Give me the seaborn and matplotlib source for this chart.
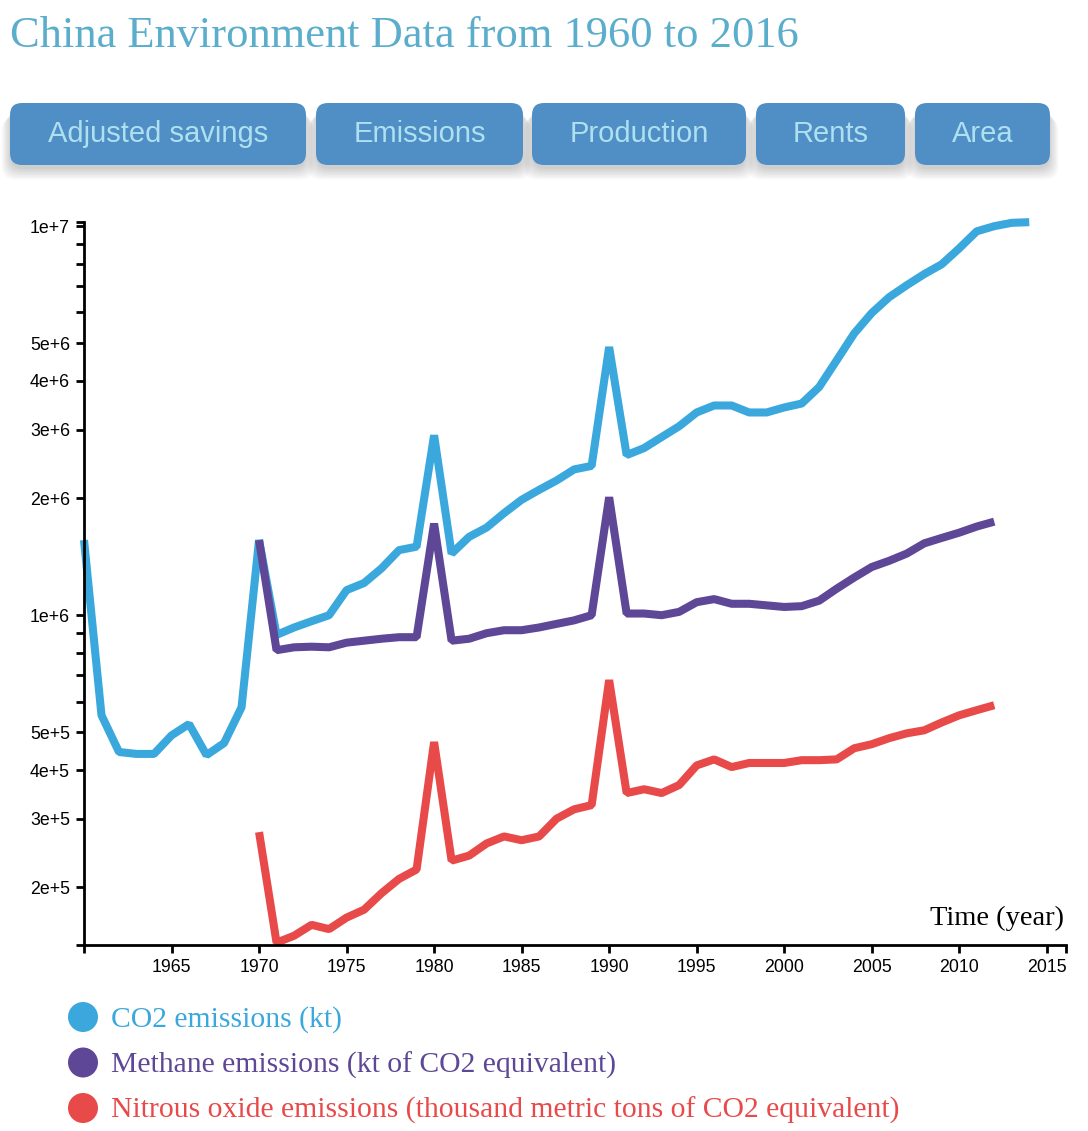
import numpy as np
import pandas as pd
import seaborn as sns
import matplotlib.pyplot as plt
from matplotlib.ticker import FixedLocator, NullFormatter
from matplotlib.patches import FancyBboxPatch, Circle

# data
co2_years = list(range(1960, 2015))
co2_values = [1.56e6, 5.53e5, 4.45e5, 4.4e5, 4.4e5, 4.91e5, 5.25e5, 4.37e5, 4.69e5, 5.8e5,
              1.56e6, 8.9e5, 9.3e5, 9.65e5, 1.0e6, 1.16e6, 1.21e6, 1.32e6, 1.47e6, 1.5e6,
              2.9e6, 1.44e6, 1.59e6, 1.68e6, 1.83e6, 1.98e6, 2.1e6, 2.22e6, 2.37e6, 2.42e6,
              4.89e6, 2.58e6, 2.69e6, 2.87e6, 3.06e6, 3.32e6, 3.46e6, 3.46e6, 3.32e6, 3.32e6,
              3.42e6, 3.5e6, 3.86e6, 4.52e6, 5.3e6, 5.98e6, 6.57e6, 7.05e6, 7.53e6, 7.98e6,
              8.77e6, 9.7e6, 1.0e7, 1.02e7, 1.024e7]

ch4_years = list(range(1970, 2013))
ch4_values = [1.56e6, 8.13e5, 8.27e5, 8.3e5, 8.27e5, 8.5e5, 8.6e5, 8.7e5, 8.78e5, 8.78e5,
              1.72e6, 8.6e5, 8.7e5, 8.99e5, 9.15e5, 9.15e5, 9.3e5, 9.5e5, 9.7e5, 1.0e6,
              2.01e6, 1.01e6, 1.01e6, 1.0e6, 1.02e6, 1.08e6, 1.1e6, 1.07e6, 1.07e6, 1.06e6,
              1.05e6, 1.055e6, 1.09e6, 1.17e6, 1.25e6, 1.33e6, 1.38e6, 1.44e6, 1.53e6, 1.58e6,
              1.63e6, 1.69e6, 1.74e6]

n2o_years = list(range(1970, 2013))
n2o_values = [2.77e5, 1.44e5, 1.5e5, 1.6e5, 1.56e5, 1.67e5, 1.75e5, 1.93e5, 2.1e5, 2.22e5,
              4.72e5, 2.34e5, 2.41e5, 2.59e5, 2.7e5, 2.64e5, 2.7e5, 3.0e5, 3.17e5, 3.25e5,
              6.81e5, 3.49e5, 3.57e5, 3.49e5, 3.66e5, 4.11e5, 4.26e5, 4.07e5, 4.17e5, 4.17e5,
              4.17e5, 4.24e5, 4.24e5, 4.26e5, 4.55e5, 4.66e5, 4.83e5, 4.97e5, 5.06e5, 5.3e5,
              5.53e5, 5.7e5, 5.87e5]

series_names = ["CO2 emissions (kt)",
                "Methane emissions (kt of CO2 equivalent)",
                "Nitrous oxide emissions (thousand metric tons of CO2 equivalent)"]
colors = ["#3ba8dd", "#5e4796", "#e84a4a"]
buttons = ["Adjusted savings", "Emissions", "Production", "Rents", "Area"]

y_major = [2e5, 3e5, 4e5, 5e5, 1e6, 2e6, 3e6, 4e6, 5e6, 1e7]
y_labels = ["2e+5", "3e+5", "4e+5", "5e+5", "1e+6", "2e+6", "3e+6", "4e+6", "5e+6", "1e+7"]
y_minor = [6e5, 7e5, 8e5, 9e5, 6e6, 7e6, 8e6, 9e6]
x_major = list(range(1965, 2016, 5))

df = pd.concat([
    pd.DataFrame({"year": co2_years, "value": co2_values, "series": series_names[0]}),
    pd.DataFrame({"year": ch4_years, "value": ch4_values, "series": series_names[1]}),
    pd.DataFrame({"year": n2o_years, "value": n2o_values, "series": series_names[2]}),
])

W, H = 1088, 1131
fig = plt.figure(figsize=(W / 100, H / 100), dpi=100)
ax = fig.add_axes([84 / W, 1 - 945 / H, 982 / W, 723 / H])

sns.lineplot(data=df, x="year", y="value", hue="series", palette=colors,
             linewidth=5.8, legend=False, ax=ax, clip_on=False,
             solid_capstyle="butt", solid_joinstyle="bevel")

ax.set_yscale("log")
ylo, yhi = 1.42e5, 1.025e7
xlo, xhi = 1960, 2016.1
ax.set_ylim(ylo, yhi)
ax.set_xlim(xlo, xhi)

ax.yaxis.set_major_locator(FixedLocator(y_major))
ax.set_yticklabels(y_labels)
ax.yaxis.set_minor_locator(FixedLocator(y_minor + [ylo, yhi]))
ax.yaxis.set_minor_formatter(NullFormatter())
ax.xaxis.set_major_locator(FixedLocator(x_major))
ax.set_xticklabels([str(x) for x in x_major])
ax.xaxis.set_minor_locator(FixedLocator([xlo, xhi]))

for s in ["top", "right"]:
    ax.spines[s].set_visible(False)
for s in ["left", "bottom"]:
    ax.spines[s].set_linewidth(2)
    ax.spines[s].set_color("black")
ax.tick_params(which="both", length=6, width=2, color="black")
ax.tick_params(labelsize=12.8, labelcolor="black", pad=4)
for lab in ax.get_xticklabels() + ax.get_yticklabels():
    lab.set_fontfamily("Liberation Sans")
ax.set_xlabel("")
ax.set_ylabel("")
ax.set_facecolor("white")

serif = "Liberation Serif"
fig.text(1064 / W, 1 - 925 / H, "Time (year)", ha="right", va="baseline",
         fontsize=20.5, fontfamily=serif, color="black")

fig.text(10 / W, 1 - 47 / H, "China Environment Data from 1960 to 2016",
         ha="left", va="baseline", fontsize=32, fontfamily=serif, color="#5aaecb")

# buttons
tr = fig.dpi_scale_trans
btn_x = [(10, 306), (316, 523), (532, 746), (756, 905), (915, 1050)]
top, bot = 103, 165
for (x0, x1), name in zip(btn_x, buttons):
    for k in range(8):
        sh = FancyBboxPatch((x0 / 100 - k * 0.012, (H - bot - 4 - 1.5 * k) / 100),
                            (x1 - x0) / 100 + 2 * k * 0.012, (bot - top) / 100,
                            boxstyle="round,pad=0,rounding_size=0.14",
                            transform=tr, facecolor="black", edgecolor="none",
                            alpha=0.025, zorder=1)
        fig.add_artist(sh)
    b = FancyBboxPatch((x0 / 100, (H - bot) / 100), (x1 - x0) / 100, (bot - top) / 100,
                       boxstyle="round,pad=0,rounding_size=0.12", transform=tr,
                       facecolor="#508ec6", edgecolor="none", zorder=2)
    fig.add_artist(b)
    fig.text((x0 + x1) / 2 / W, 1 - 134 / H, name, ha="center", va="center",
             fontsize=21, fontfamily="Liberation Sans", color="#aee0f0", zorder=3)

# legend
for i, (name, c) in enumerate(zip(series_names, colors)):
    cy = 1017 + i * 45.5
    fig.add_artist(Circle((83 / 100, (H - cy) / 100), 0.15, transform=tr,
                          facecolor=c, edgecolor="none"))
    fig.text(111 / W, 1 - (cy + 10) / H, name, ha="left", va="baseline",
             fontsize=21.35, fontfamily=serif, color=c)

fig.savefig("out.png", dpi=100, facecolor="white")
